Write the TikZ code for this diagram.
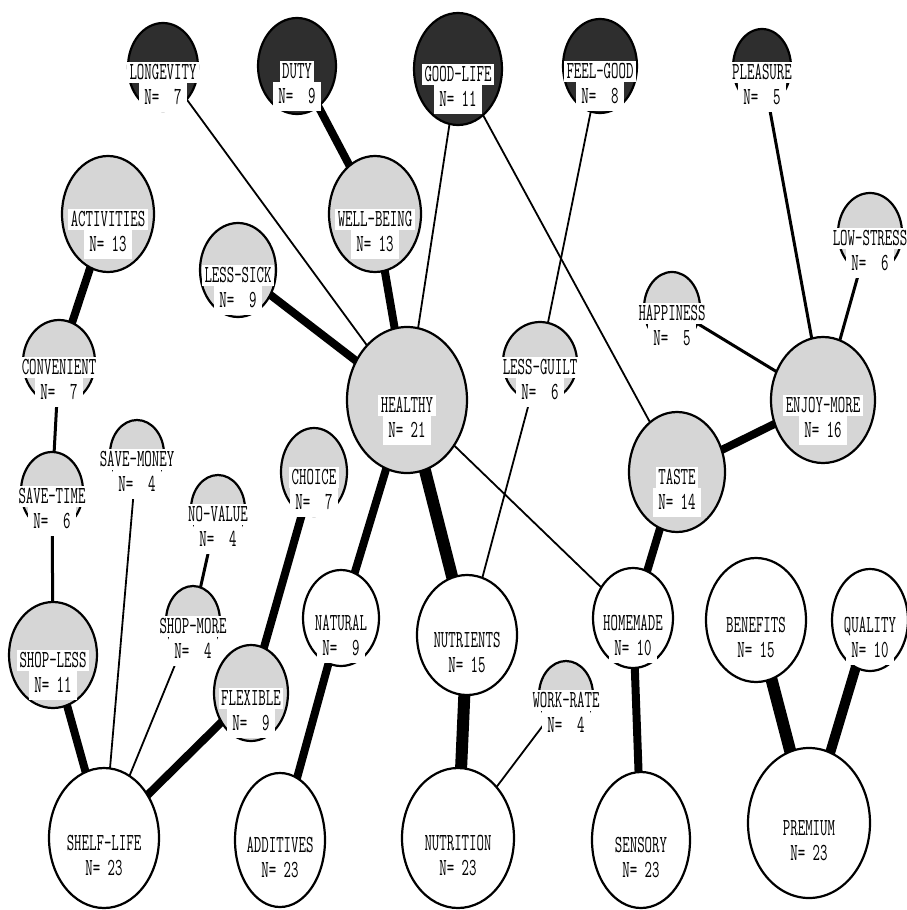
\documentclass[tikz,border=0pt]{standalone}
\usepackage{fontspec}
\usetikzlibrary{shapes.geometric}
\pgfdeclarelayer{bg}
\pgfsetlayers{bg,main}
\newcommand\plottext[1]{\scalebox{0.59}[1]{\ttfamily\fontsize{24.5}{24.5}\selectfont #1}}
\tikzset{
  cnode/.style={ellipse, draw=black, line width=2.2pt, inner sep=0pt, outer sep=0pt},
  darkc/.style={cnode, fill=black!82},
  greyc/.style={cnode, fill=black!16},
  whitec/.style={cnode, fill=white},
  lab/.style={fill=white, inner xsep=2.5pt, inner ysep=0pt, minimum height=21pt,
    text height=15pt, text depth=0pt},
  nlab/.style={lab, inner xsep=5pt, minimum height=29pt},
  lwa/.style={line width=1.8pt},
  lwb/.style={line width=3pt},
  lwc/.style={line width=8pt},
  lwd/.style={line width=10pt},
  lwe/.style={line width=12pt},
}
% style, name, cx, cy, rx, ry, label, N
\newcommand\hvnode[8]{%
  \node[#1, minimum width={2*#5}, minimum height={2*#6}] (#2) at (#3,#4) {};
  \node[lab] (#2-l) at (#3,#4+5) {\plottext{#7}};
  \node[nlab] (#2-n) at (#3,#4+30) {\plottext{#8}};
}
\begin{document}
\begin{tikzpicture}[x=1pt,y=-1pt]
\useasboundingbox (0,0) rectangle (906,910);
\begin{pgfonlayer}{bg}
\fill[white] (0,0) rectangle (906,910);
\end{pgfonlayer}
% top row (dark)
\hvnode{darkc}{longevity}{163}{67}{35}{44}{LONGEVITY}{N=~~7}
\hvnode{darkc}{duty}{297}{66}{39}{48}{DUTY}{N=~~9}
\hvnode{darkc}{goodlife}{458}{69}{44}{56}{GOOD-LIFE}{N=~11}
\hvnode{darkc}{feelgood}{600}{66}{37}{47}{FEEL-GOOD}{N=~~8}
\hvnode{darkc}{pleasure}{762}{67}{29}{38}{PLEASURE}{N=~~5}
% middle (grey)
\hvnode{greyc}{activities}{108}{214}{46}{58}{ACTIVITIES}{N=~13}
\hvnode{greyc}{wellbeing}{375}{214}{46}{58}{WELL-BEING}{N=~13}
\hvnode{greyc}{lesssick}{238}{270}{38}{47}{LESS-SICK}{N=~~9}
\hvnode{greyc}{convenient}{59}{362}{36}{42}{CONVENIENT}{N=~~7}
\hvnode{greyc}{healthy}{407}{400}{60}{73}{HEALTHY}{N=~21}
\hvnode{greyc}{lessguilt}{540}{362}{37}{40}{LESS-GUILT}{N=~~6}
\hvnode{greyc}{happiness}{672}{308}{28}{36}{HAPPINESS}{N=~~5}
\hvnode{greyc}{lowstress}{870}{233}{32}{40}{LOW-STRESS}{N=~~6}
\hvnode{greyc}{enjoymore}{823}{400}{52}{63}{ENJOY-MORE}{N=~16}
\hvnode{greyc}{taste}{677}{472}{48}{60}{TASTE}{N=~14}
\hvnode{greyc}{savetime}{52}{491}{31}{39}{SAVE-TIME}{N=~~6}
\hvnode{greyc}{savemoney}{137}{454}{27}{34}{SAVE-MONEY}{N=~~4}
\hvnode{greyc}{novalue}{218}{509}{27}{34}{NO-VALUE}{N=~~4}
\hvnode{greyc}{shopmore}{193}{621}{27}{35}{SHOP-MORE}{N=~~4}
\hvnode{greyc}{choice}{314}{472}{33}{44}{CHOICE}{N=~~7}
\hvnode{greyc}{shopless}{53}{655}{44}{53}{SHOP-LESS}{N=~11}
\hvnode{greyc}{flexible}{251}{693}{37}{48}{FLEXIBLE}{N=~~9}
\hvnode{greyc}{workrate}{566}{695}{27}{34}{WORK-RATE}{N=~~4}
% white
\hvnode{whitec}{natural}{341}{618}{38}{48}{NATURAL}{N=~~9}
\hvnode{whitec}{nutrients}{467}{635}{50}{60}{NUTRIENTS}{N=~15}
\hvnode{whitec}{homemade}{633}{618}{40}{50}{HOMEMADE}{N=~10}
\hvnode{whitec}{benefits}{756}{620}{50}{62}{BENEFITS}{N=~15}
\hvnode{whitec}{quality}{870}{620}{38}{51}{QUALITY}{N=~10}
\hvnode{whitec}{shelflife}{104}{838}{55}{70}{SHELF-LIFE}{N=~23}
\hvnode{whitec}{additives}{280}{840}{45}{67}{ADDITIVES}{N=~23}
\hvnode{whitec}{nutrition}{458}{838}{56}{70}{NUTRITION}{N=~23}
\hvnode{whitec}{sensory}{641}{840}{49}{68}{SENSORY}{N=~23}
\hvnode{whitec}{premium}{809}{823}{61}{75}{PREMIUM}{N=~23}
% connectors
\begin{pgfonlayer}{bg}
\draw[lwa] (longevity.center) -- (healthy.center);
\draw[lwc] (duty.center) -- (wellbeing.center);
\draw[lwa] (goodlife.center) -- (healthy.center);
\draw[lwa] (goodlife.center) -- (taste.center);
\draw[lwa] (feelgood.center) -- (lessguilt.center);
\draw[lwb] (pleasure.center) -- (enjoymore.center);
\draw[lwb] (lowstress.center) -- (enjoymore.center);
\draw[lwb] (happiness.center) -- (enjoymore.center);
\draw[lwc] (enjoymore.center) -- (taste.center);
\draw[lwc] (wellbeing.center) -- (healthy.center);
\draw[lwc] (lesssick.center) -- (healthy.center);
\draw[lwc] (healthy.center) -- (natural.center);
\draw[lwe] (healthy.center) -- (nutrients.center);
\draw[lwa] (healthy.center) -- (homemade.center);
\draw[lwa] (lessguilt.center) -- (nutrients.center);
\draw[lwc] (taste.center) -- (homemade.center);
\draw[lwc] (activities.center) -- (convenient.center);
\draw[lwb] (convenient.center) -- (savetime.center);
\draw[lwb] (savetime.center) -- (shopless.center);
\draw[lwc] (shopless.center) -- (shelflife.center);
\draw[lwa] (savemoney.center) -- (shelflife.center);
\draw[lwb] (novalue.center) -- (shopmore.center);
\draw[lwa] (shopmore.center) -- (shelflife.center);
\draw[lwc] (choice.center) -- (flexible.center);
\draw[lwc] (flexible.center) -- (shelflife.center);
\draw[lwc] (natural.center) -- (additives.center);
\draw[lwe] (nutrients.center) -- (nutrition.center);
\draw[lwa] (workrate.center) -- (nutrition.center);
\draw[lwc] (homemade.center) -- (sensory.center);
\draw[lwe] (benefits.center) -- (premium.center);
\draw[lwd] (quality.center) -- (premium.center);
\end{pgfonlayer}
\end{tikzpicture}
\end{document}
